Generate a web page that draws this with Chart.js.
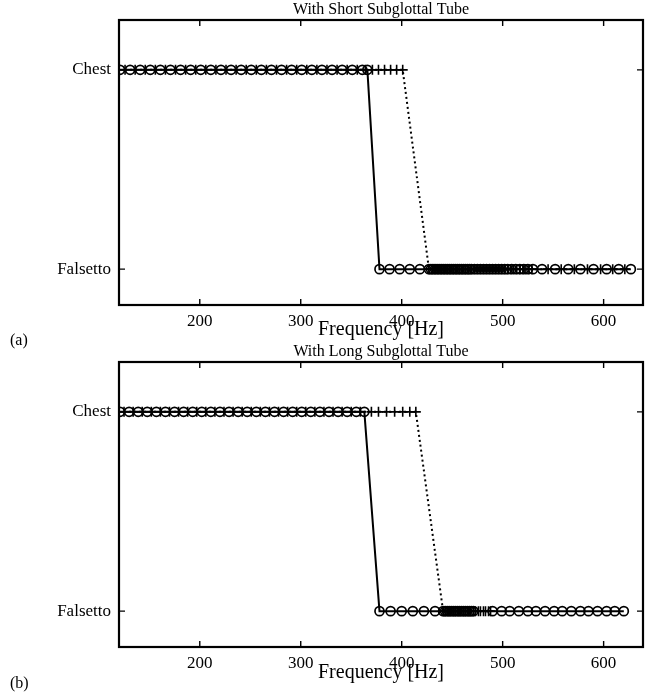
<!DOCTYPE html>
<html>
<head>
<meta charset="utf-8">
<script src="https://cdn.jsdelivr.net/npm/chart.js@4"></script>
<style>
  body { margin: 0; background: #fff; width: 654px; height: 697px; position: relative; overflow: hidden; font-family: 'Liberation Serif', serif; }
  .panel { position: absolute; left: 0; width: 654px; }
  #p1 { top: 0; height: 342px; }
  #p2 { top: 342px; height: 355px; }
  .tag { position: absolute; left: 10px; font-size: 16px; color: #000; }
</style>
</head>
<body>
<div class="panel" id="p1"><canvas id="shortTube"></canvas></div>
<div class="panel" id="p2"><canvas id="longTube"></canvas></div>
<div class="tag" style="top:331px">(a)</div>
<div class="tag" style="top:674px">(b)</div>
<script>
// tick labels
const freqTicks = [200, 300, 400, 500, 600];
const registerLabels = ['Falsetto', 'Chest'];   // y = 0, y = 1

// (a) short subglottal tube, frequencies [Hz] of each measured point
const shortSolidChest = [121, 131, 141, 151, 161, 171, 181, 191, 201, 211, 221, 231, 241, 251, 261, 271, 281, 291, 301, 311, 321, 331, 341, 351, 361, 366];
const shortSolidFals = [378, 388, 398, 408, 418, 427, 429, 431, 433, 435, 437, 439, 441, 443, 445, 447, 449, 451, 453, 455, 457, 459, 461, 463, 465, 467, 469, 472, 475, 478, 481, 484, 487, 490, 493, 496, 499, 502, 505, 509, 513, 517, 521, 525, 530, 539, 552, 565, 577, 590, 603, 615, 627];
const shortDottedChest = [126, 136, 146, 156, 166, 176, 186, 196, 206, 216, 226, 236, 246, 256, 266, 276, 286, 296, 306, 316, 326, 336, 346, 356, 364, 371, 377, 383, 389, 395, 401];
const shortDottedFals = [427, 430, 433, 436, 439, 442, 445, 448, 451, 454, 457, 460, 463, 466, 469, 472, 475, 478, 481, 484, 487, 490, 493, 496, 499, 502, 505, 508, 511, 514, 517, 520, 523, 526, 529, 545, 558, 571, 584, 597, 609, 621];

// (b) long subglottal tube
const longSolidChest = [121, 130, 139, 148, 157, 166, 175, 184, 193, 202, 211, 220, 229, 238, 247, 256, 265, 274, 283, 292, 301, 310, 319, 328, 337, 346, 355, 363];
const longSolidFals = [378, 389, 400, 411, 422, 433, 441, 443, 445, 447, 449, 451, 453, 455, 457, 459, 461, 463, 465, 467, 469, 471, 490, 499, 507, 516, 525, 533, 542, 551, 559, 568, 577, 585, 594, 603, 611, 620];
const longDottedChest = [125, 134, 143, 152, 161, 170, 179, 188, 197, 206, 215, 224, 233, 242, 251, 260, 269, 278, 287, 296, 305, 314, 323, 332, 341, 350, 359, 370, 377, 385, 393, 401, 408, 414];
const longDottedFals = [441, 443, 446, 448, 451, 453, 456, 458, 461, 463, 466, 468, 471, 473, 476, 478, 481, 483, 486, 488];

const serif = 'Liberation Serif';

function toPoints(chest, fals) {
  return chest.map(x => ({ x, y: 1 })).concat(fals.map(x => ({ x, y: 0 })));
}

// matlab-like box with inward ticks
const frame = {
  id: 'frame',
  afterDraw(chart) {
    const { ctx, chartArea: a, scales: { x, y } } = chart;
    ctx.save();
    ctx.strokeStyle = '#000';
    ctx.lineWidth = 1.4;
    ctx.beginPath();
    x.ticks.forEach(t => {
      const px = x.getPixelForValue(t.value);
      ctx.moveTo(px, a.bottom); ctx.lineTo(px, a.bottom - 6);
      ctx.moveTo(px, a.top); ctx.lineTo(px, a.top + 6);
    });
    y.ticks.forEach(t => {
      const py = y.getPixelForValue(t.value);
      ctx.moveTo(a.left, py); ctx.lineTo(a.left + 6, py);
      ctx.moveTo(a.right, py); ctx.lineTo(a.right - 6, py);
    });
    ctx.stroke();
    ctx.lineWidth = 2.2;
    ctx.strokeRect(a.left, a.top, a.right - a.left, a.bottom - a.top);
    ctx.restore();
  }
};

function makeChart(id, title, solidChest, solidFals, dottedChest, dottedFals, axisHeight, titlePad) {
  // @ts-ignore
  new Chart(document.getElementById(id), {
    type: 'line',
    data: {
      datasets: [{
        data: toPoints(solidChest, solidFals),
        borderColor: '#000',
        borderWidth: 2,
        pointStyle: 'circle',
        pointRadius: 4.5,
        pointBorderWidth: 1.7,
        pointBorderColor: '#000',
        pointBackgroundColor: 'rgba(0,0,0,0)'
      }, {
        data: toPoints(dottedChest, dottedFals),
        borderColor: '#000',
        borderWidth: 2,
        borderDash: [2, 3],
        pointStyle: 'cross',
        pointRadius: 5,
        pointBorderWidth: 1.6,
        pointBorderColor: '#000'
      }]
    },
    options: {
      responsive: true,
      maintainAspectRatio: false,
      animation: false,
      layout: { padding: { right: 11 } },
      plugins: {
        legend: { display: false },
        tooltip: { enabled: false }
      },
      scales: {
        // top axis only carries the panel title, centred over the plot box
        top: {
          type: 'linear',
          position: 'top',
          min: 120,
          max: 639,
          afterFit: s => { s.height = 20; },
          grid: { display: false, drawTicks: false },
          border: { display: false },
          ticks: { display: false },
          title: {
            display: true,
            text: title,
            color: '#000',
            font: { family: serif, size: 16 },
            padding: { top: 0, bottom: 0 }
          }
        },
        x: {
          type: 'linear',
          position: 'bottom',
          min: 120,
          max: 639,
          afterBuildTicks: s => { s.ticks = freqTicks.map(v => ({ value: v })); },
          afterFit: s => { s.height = axisHeight; },
          grid: { display: false, drawTicks: false },
          border: { display: false },
          ticks: { color: '#000', padding: 6, maxRotation: 0, font: { family: serif, size: 17 } },
          title: {
            display: true,
            text: 'Frequency [Hz]',
            color: '#000',
            font: { family: serif, size: 20 },
            padding: { top: 0, bottom: titlePad }
          }
        },
        y: {
          min: -0.18,
          max: 1.25,
          afterBuildTicks: s => { s.ticks = [{ value: 0 }, { value: 1 }]; },
          afterFit: s => { s.width = 119; },
          grid: { display: false, drawTicks: false },
          border: { display: false },
          ticks: { color: '#000', padding: 8, callback: v => registerLabels[v], font: { family: serif, size: 17 } }
        }
      }
    },
    plugins: [frame]
  });
}

makeChart('shortTube', 'With Short Subglottal Tube', shortSolidChest, shortSolidFals, shortDottedChest, shortDottedFals, 37, 0);
makeChart('longTube', 'With Long Subglottal Tube', longSolidChest, longSolidFals, longDottedChest, longDottedFals, 50, 12);
</script>
</body>
</html>
